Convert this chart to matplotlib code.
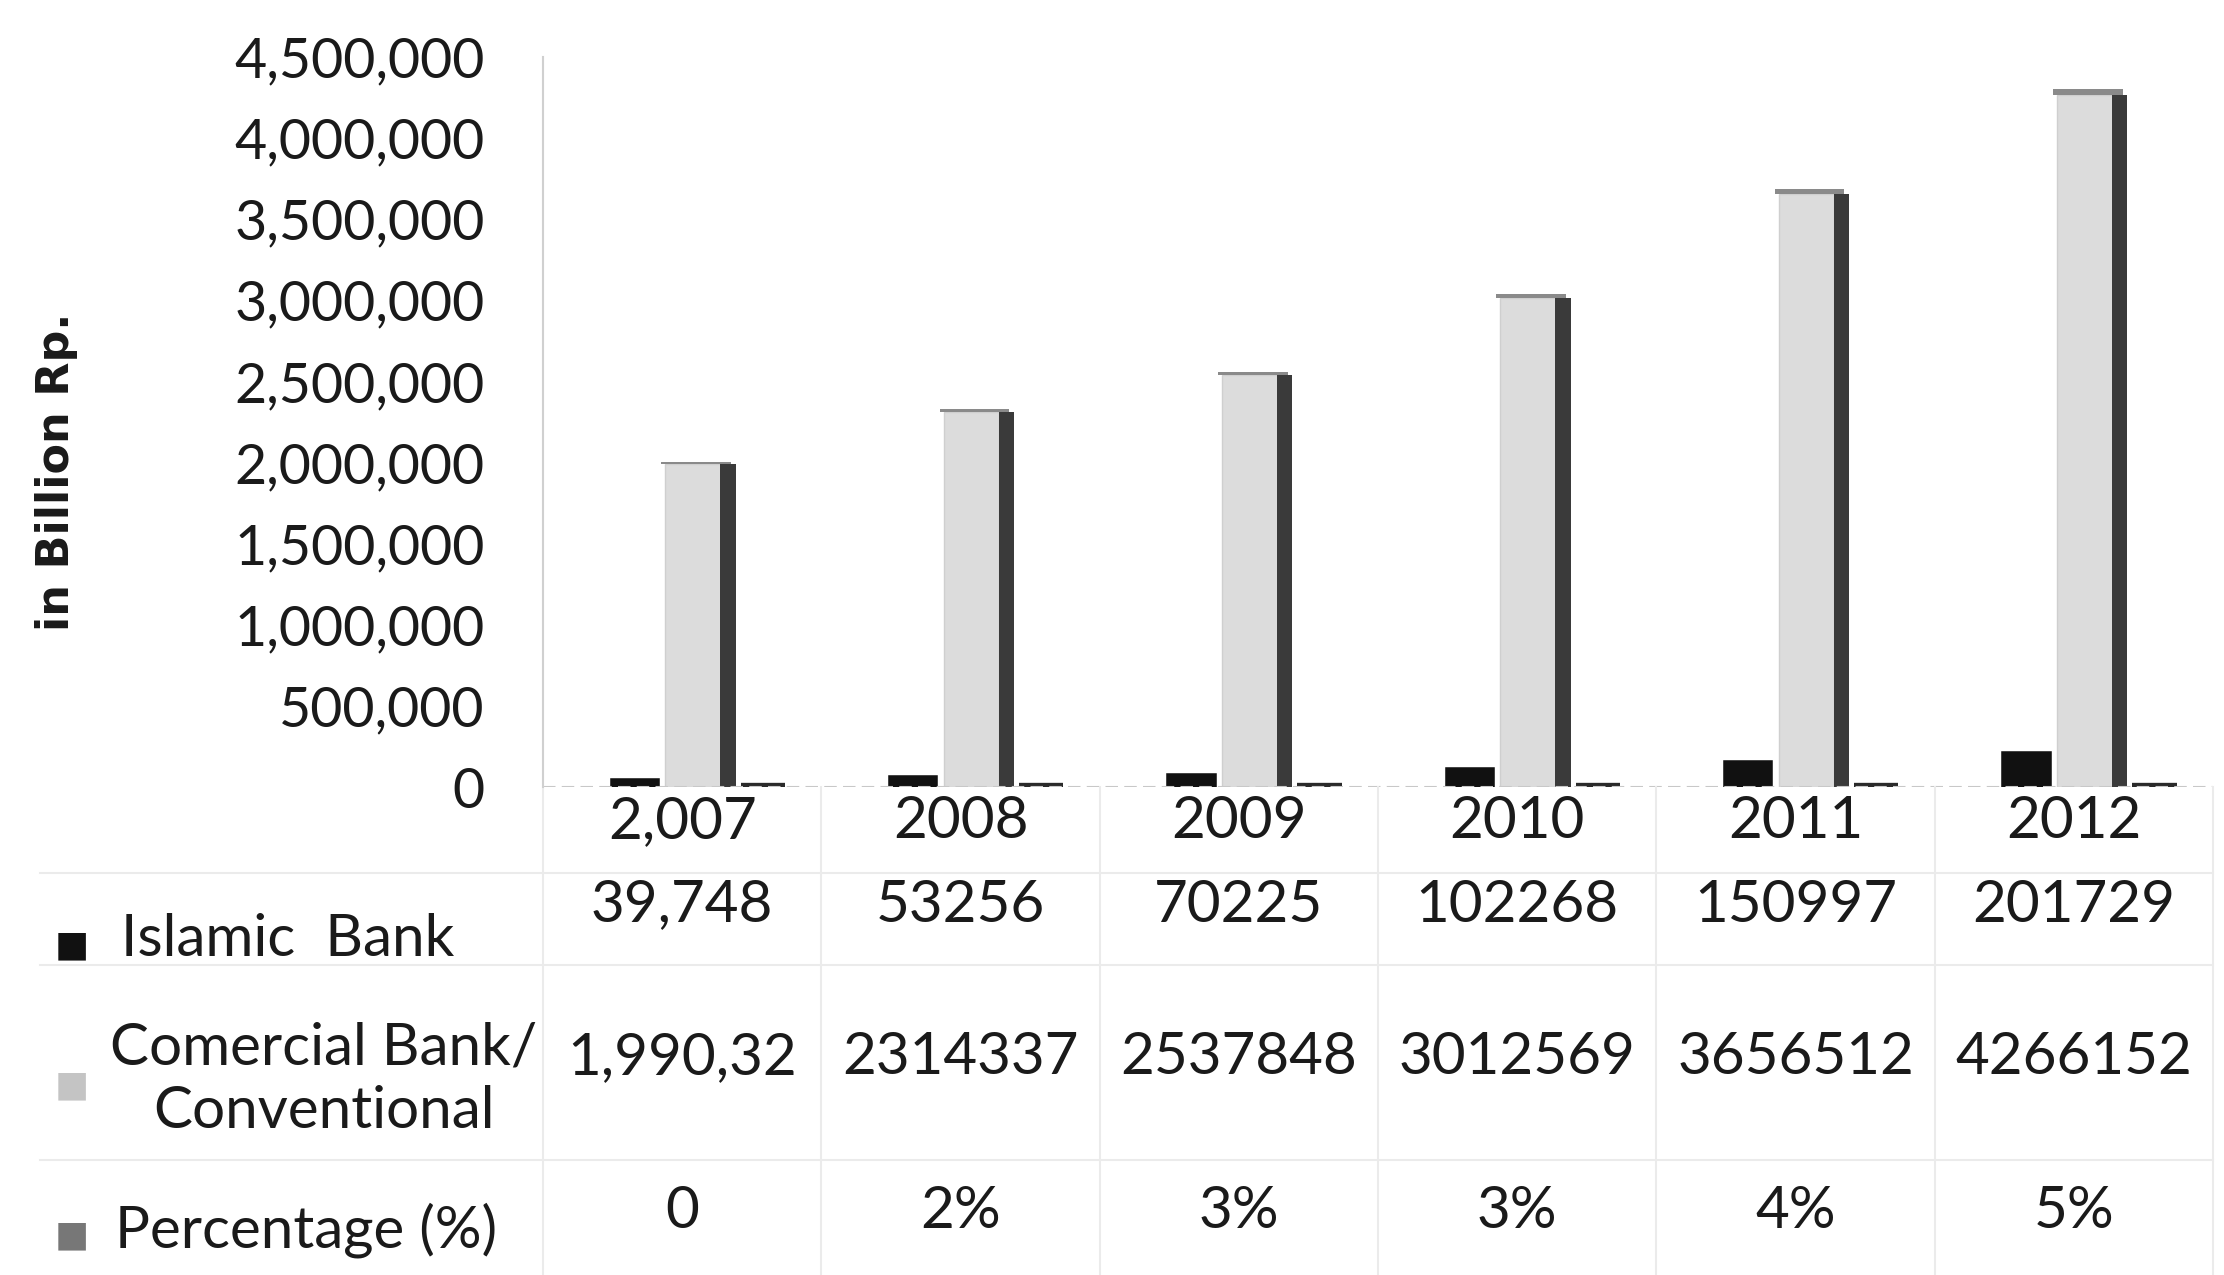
#!/usr/bin/env python3
"""Islamic vs conventional bank assets, 2007-2012, bars with a data table underneath."""

import matplotlib

matplotlib.use("Agg")
import matplotlib.pyplot as plt  # type: ignore
import matplotlib.transforms as mtransforms  # type: ignore
import numpy as np  # type: ignore
from matplotlib.ticker import FuncFormatter  # type: ignore

years = ["2,007", "2008", "2009", "2010", "2011", "2012"]
islamic = [39748, 53256, 70225, 102268, 150997, 201729]
islamic_text = ["39,748", "53256", "70225", "102268", "150997", "201729"]
commercial = [1990320, 2314337, 2537848, 3012569, 3656512, 4266152]
commercial_text = ["1,990,32", "2314337", "2537848", "3012569", "3656512", "4266152"]
percentage = [0, 2, 3, 3, 4, 5]
percentage_text = ["0", "2%", "3%", "3%", "4%", "5%"]

plt.rcParams["font.family"] = ["Lato", "DejaVu Sans"]

W, H = 2224, 1275
fig = plt.figure(figsize=(W / 100, H / 100), dpi=100)
fig.patch.set_facecolor("white")

left, right, top, base = 543, 2213, 57, 787
ax = fig.add_axes([left / W, 1 - base / H, (right - left) / W, (base - top) / H])

x = np.arange(len(years))
# Islamic bank: small black blocks on the left of each group
ax.bar(x - 0.17, islamic, width=0.16, color="#111111", edgecolor="#111111", linewidth=4)
# conventional bank: light front face with a dark side face and a grey top
ax.bar(x + 0.04, commercial, width=0.2, color="#dcdcdc", edgecolor="#cfcfcf", linewidth=1)
ax.bar(x + 0.165, commercial, width=0.055, color="#3a3a3a", linewidth=0)
ax.bar(x + 0.05, np.array(commercial) * 0.008, bottom=commercial, width=0.25,
       color="#8a8a8a", linewidth=0)
# percentage: flat dark slabs, the values are far below the axis scale
ax.bar(x + 0.29, percentage, width=0.16, color="#2a2a2a", edgecolor="#2a2a2a", linewidth=6)

ax.set_xlim(-0.5, len(years) - 0.5)
ax.set_ylim(0, 4500000)
ax.set_yticks(np.arange(0, 4500001, 500000))
ax.yaxis.set_major_formatter(FuncFormatter(lambda v, _: f"{int(v):,}"))
ax.tick_params(axis="y", length=0, pad=42, labelsize=40, labelcolor="#1a1a1a")
ax.set_xticks([])
for side in ("top", "right", "bottom"):
    ax.spines[side].set_visible(False)
ax.spines["left"].set_color("#d0d0d0")
ax.spines["left"].set_linewidth(1.5)
ax.axhline(0, color="#c8c8c8", linewidth=1.5, linestyle=(0, (6, 3)))

fig.text(57 / W, 0.63, "in Billion Rp.", rotation=90, ha="center", va="center",
         fontsize=32, fontweight="bold", family="DejaVu Sans", color="#1a1a1a")

# data table under the bars
trans = mtransforms.blended_transform_factory(ax.transData, fig.transFigure)
rows = [
    (years, 1 - 822 / H),
    (islamic_text, 1 - 905 / H),
    (commercial_text, 1 - 1058 / H),
    (percentage_text, 1 - 1212 / H),
]
for labels, yrow in rows:
    for i, txt in enumerate(labels):
        ax.text(i, yrow, txt, transform=trans, ha="center", va="center",
                fontsize=42, color="#1a1a1a", clip_on=False)

legend_rows = [
    ("Islamic  Bank", "#111111", 1 - 940 / H, 121),
    ("Comercial Bank/\nConventional", "#c4c4c4", 1 - 1080 / H, 110),
    ("Percentage (%)", "#777777", 1 - 1230 / H, 115),
]
for label, color, yrow, xpos in legend_rows:
    fig.text(xpos / W, yrow, label, ha="left", va="center", fontsize=42,
             color="#1a1a1a", multialignment="center", linespacing=1.25)
    fig.text(72 / W, yrow - 0.004, "\u25a0", ha="center", va="center", fontsize=26,
             color=color, family="DejaVu Sans")

# faint table grid
grid_color = "#ebebeb"
for i in range(len(years) + 1):
    ax.plot([i - 0.5, i - 0.5], [1 - base / H, 0.0], transform=trans, color=grid_color,
            linewidth=1.5, clip_on=False)
for yline in (873, 965, 1160):
    fig.add_artist(plt.Line2D([40 / W, right / W], [1 - yline / H, 1 - yline / H],
                              color=grid_color, linewidth=1.5))

fig.savefig("out.png", dpi=100, facecolor="white")
